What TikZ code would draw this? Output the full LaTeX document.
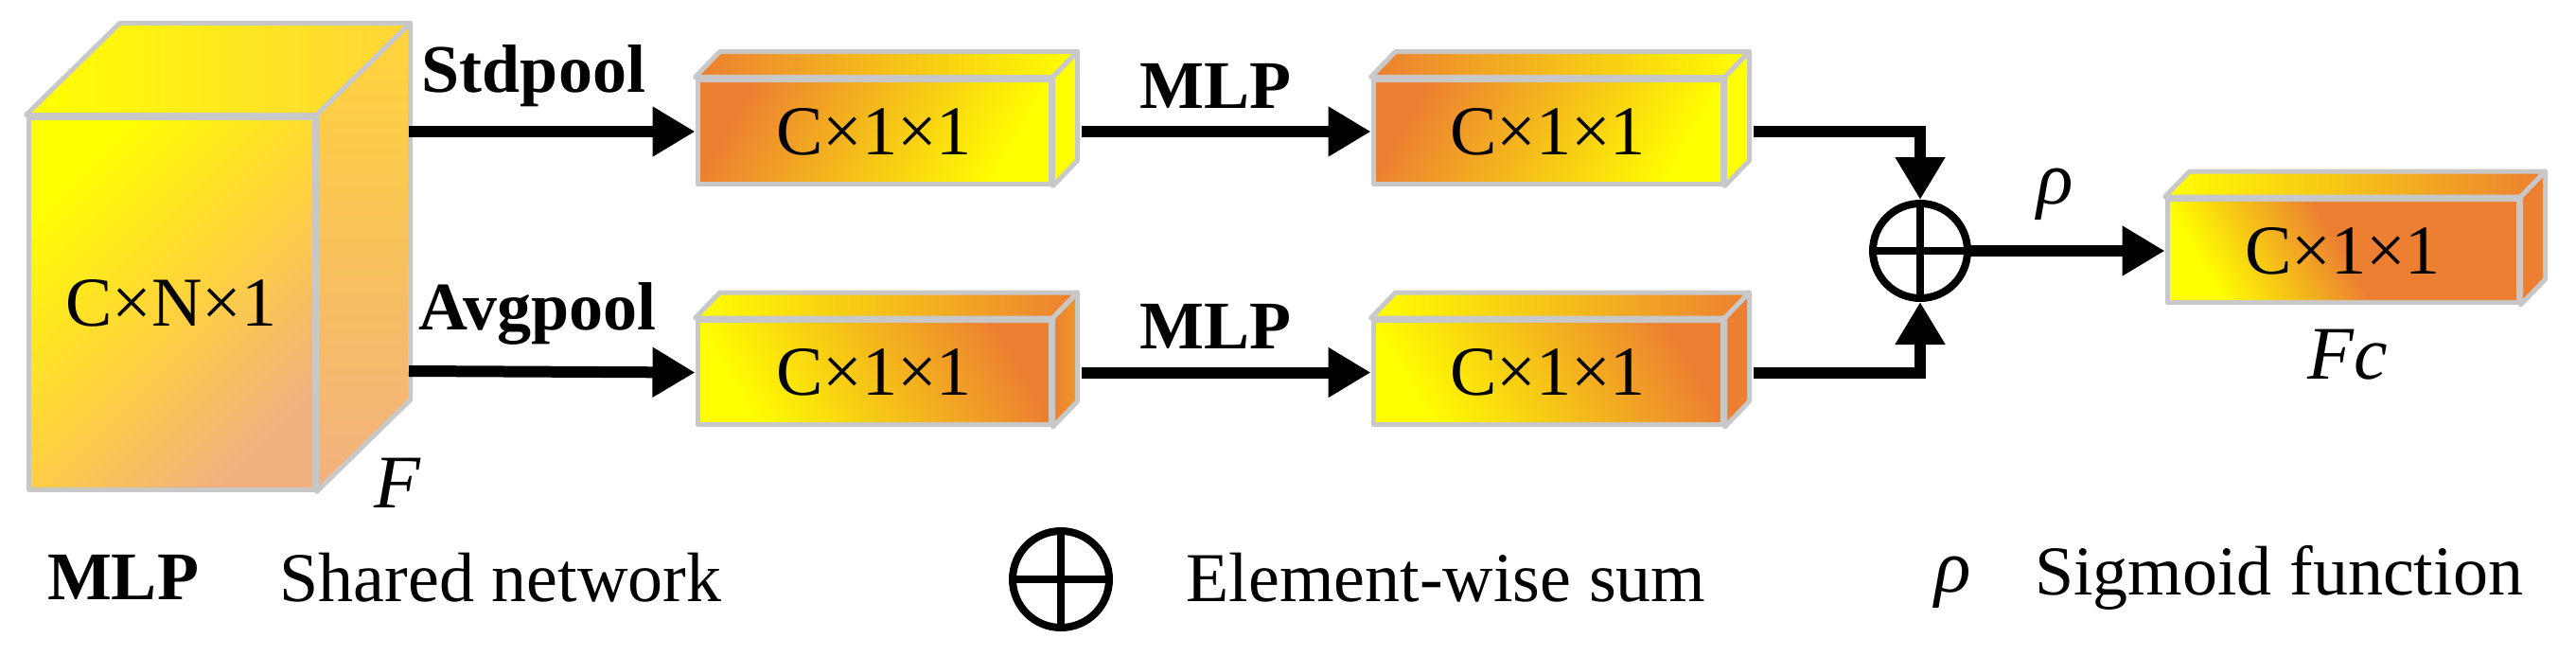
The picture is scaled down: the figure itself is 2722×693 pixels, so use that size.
\documentclass[tikz,border=0pt]{standalone}
\usepackage{fontspec}
\setmainfont{Liberation Serif}
\usetikzlibrary{arrows.meta}
\definecolor{edge}{HTML}{C8C8C8}
\definecolor{org}{HTML}{EC7F32}
\definecolor{yel}{HTML}{FFFF00}
\definecolor{pale}{HTML}{F2B080}
\definecolor{gold}{HTML}{FFD43A}
\newcommand\cubo[7]{%
  \node[face,minimum width=#3,minimum height=#4,#5,font=\lbl] (#1) at (#2) {C×1×1};
  \shade[face,#6] (#1.north west) -- ++(26,-27) -- ([shift={(26,-27)}]#1.north east) -- (#1.north east) -- cycle;
  \shade[face,#7] (#1.north east) -- ++(26,-27) -- ([shift={(26,-27)}]#1.south east) -- (#1.south east) -- cycle;
}
\begin{document}
\begin{tikzpicture}[x=1pt,y=-1pt,
  face/.style={draw=edge,line width=5pt,line join=round,inner sep=0pt},
  arr/.style={line width=12pt,-{Triangle[length=45pt,width=50pt]}},
  bl/.style={font=\fontsize{72}{80}\selectfont\bfseries},
  tx/.style={font=\fontsize{74}{80}\selectfont},
  it/.style={font=\fontsize{80}{86}\selectfont\itshape}]
\def\lbl{\fontsize{74}{80}\selectfont}
\useasboundingbox (0,0) rectangle (2722,693);
% big cube
\node[face,minimum width=302,minimum height=393,left color=yel,right color=pale,middle color=gold,shading angle=45,font=\lbl] (F) at (181,320.5) {C×N×1};
\shade[face,left color=yel,right color=gold] (F.north west) -- ++(99,-97) -- ([shift={(99,-97)}]F.north east) -- (F.north east) -- cycle;
\shade[face,top color=gold,bottom color=pale] (F.north east) -- ++(99,-97) -- ([shift={(99,-97)}]F.south east) -- (F.south east) -- cycle;
\coordinate (Fs) at (432,139);
\coordinate (Fa) at (432,392);
% boxes
\cubo{b1}{923.5,139}{373}{110}{left color=org,right color=yel,shading angle=60}{left color=org,right color=yel}{left color=yel,right color=yel}
\cubo{b2}{923.5,393.5}{373}{110}{left color=yel,right color=org,shading angle=120}{left color=yel,right color=org}{left color=org,right color=org!80!yel}
\cubo{b3}{1635.5,139}{369}{110}{left color=org,right color=yel,shading angle=60}{left color=org,right color=yel}{left color=yel,right color=yel}
\cubo{b4}{1635.5,393.5}{369}{110}{left color=yel,right color=org,shading angle=120}{left color=yel,right color=org}{left color=org,right color=org}
\cubo{b5}{2475.5,265}{371}{109}{left color=yel,right color=org,middle color=org,shading angle=120}{left color=yel,right color=org}{left color=org,right color=org}
% sum
\node[circle,draw,line width=8pt,minimum size=100pt,inner sep=0pt] (S) at (2029,265) {};
\draw[line width=8pt] (S.north) -- (S.south) (S.west) -- (S.east);
% connectors
\draw[arr] (Fs) -- (b1.west);
\draw[arr] (Fa) -- (b2.west);
\draw[arr] ([xshift=30pt]b1.east) -- (b3.west);
\draw[arr] ([xshift=30pt]b2.east) -- (b4.west);
\draw[arr] ([xshift=30pt]b3.east) -| (S.north);
\draw[arr] ([xshift=30pt]b4.east) -| (S.south);
\draw[arr] (S.east) -- (b5.west);
% labels
\node[bl] (l1) at (564,80) {Stdpool};
\node[bl] (l2) at (568,331) {Avgpool};
\node[bl] (l3) at (1284,91) {MLP};
\node[bl] (l4) at (1284,345) {MLP};
\node[it] (l5) at (2172,205) {ρ};
\node[it] (l6) at (420,510) {F};
\node[it] (l7) at (2481,375) {Fc};
% legend
\node[bl] (g1) at (130,610) {MLP};
\node[tx] (g2) at (529,610) {Shared network};
\node[circle,draw,line width=8pt,minimum size=102pt,inner sep=0pt] (g3) at (1121,612) {};
\draw[line width=8pt] (g3.north) -- (g3.south) (g3.west) -- (g3.east);
\node[tx] (g4) at (1528,610) {Element-wise sum};
\node[it] (g5) at (2064,615) {ρ};
\node[tx] (g6) at (2408,610) {Sigmoid function};
\end{tikzpicture}
\end{document}
